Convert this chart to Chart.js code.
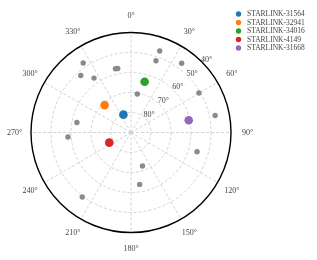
<!DOCTYPE html>
<html>
<head>
<meta charset="utf-8">
<script src="https://cdn.jsdelivr.net/npm/chart.js@4"></script>
<style>
  html, body { margin: 0; padding: 0; background: #fff; }
  #wrap { width: 317px; height: 260px; position: relative; }
</style>
</head>
<body>
<div id="wrap"><canvas id="sky"></canvas></div>
<script>
/* Satellite sky plot: azimuth (deg, clockwise from north) and elevation (deg) */
var satNames = ['STARLINK-31564', 'STARLINK-32941', 'STARLINK-34016', 'STARLINK-4149', 'STARLINK-31668'];
var satColors = ['#1f77b4', '#ff7f0e', '#2ca02c', '#d62728', '#9467bd'];
var satAz = [337, 316, 15, 245, 78];
var satEl = [80.3, 71, 63.7, 78, 60.5];

var otherAz = [19.4, 19.2, 36.2, 325.5, 318.6, 325.8, 346.3, 348.3, 9.3, 59.8, 78.6, 280.5, 265.9, 106.3, 161.1, 170.5, 217.1];
var otherEl = [46.8, 52, 47.1, 47.8, 52, 57.1, 57.2, 57.3, 70.5, 50.7, 47.1, 62.5, 58.4, 55.6, 72.3, 63.7, 49.6];

var ringEl = [80, 70, 60, 50];
var minEl = 40;
var spokeAz = [0, 30, 60, 90, 120, 150, 180, 210, 240, 270, 300, 330];

var ZMAX = 90 - minEl;

function toXY(az, el) {
  var z = 90 - el, a = az * Math.PI / 180;
  return { x: z * Math.sin(a), y: z * Math.cos(a) };
}

var datasets = [{
  label: '',
  data: otherAz.map(function (a, i) { return toXY(a, otherEl[i]); }),
  backgroundColor: '#8a8a8a',
  pointRadius: 2.7,
  borderWidth: 0
}];
satNames.forEach(function (n, i) {
  datasets.push({
    label: n,
    data: [toXY(satAz[i], satEl[i])],
    backgroundColor: satColors[i],
    pointRadius: 4.3,
    borderWidth: 0
  });
});

var FONT = "8px 'Liberation Serif', 'DejaVu Serif', serif";

/* polar grid under the points */
var polarGrid = {
  id: 'polarGrid',
  beforeDatasetsDraw: function (chart) {
    var xs = chart.scales.x, ys = chart.scales.y, ctx = chart.ctx;
    var cx = xs.getPixelForValue(0), cy = ys.getPixelForValue(0);
    var k = (xs.getPixelForValue(ZMAX) - cx) / ZMAX;
    var R = ZMAX * k;
    ctx.save();
    ctx.strokeStyle = '#cfcfcf';
    ctx.lineWidth = 0.9;
    ctx.setLineDash([3, 2]);
    ringEl.forEach(function (el) {
      ctx.beginPath();
      ctx.arc(cx, cy, (90 - el) * k, 0, Math.PI * 2);
      ctx.stroke();
    });
    spokeAz.forEach(function (az) {
      var a = az * Math.PI / 180;
      ctx.beginPath();
      ctx.moveTo(cx, cy);
      ctx.lineTo(cx + R * Math.sin(a), cy - R * Math.cos(a));
      ctx.stroke();
    });
    ctx.setLineDash([]);
    ctx.strokeStyle = '#000';
    ctx.lineWidth = 1.4;
    ctx.beginPath();
    ctx.arc(cx, cy, R, 0, Math.PI * 2);
    ctx.stroke();

    ctx.font = FONT;
    ctx.fillStyle = '#444';
    ctx.textAlign = 'center';
    ctx.textBaseline = 'middle';
    spokeAz.forEach(function (az) {
      var a = az * Math.PI / 180;
      ctx.fillText(az + '°', cx + (R + 16.5) * Math.sin(a), cy - (R + 16.5) * Math.cos(a));
    });
    var la = 46 * Math.PI / 180;
    ringEl.concat([minEl]).forEach(function (el) {
      var r = (90 - el) * k + 5;
      ctx.fillText(el + '°', cx + r * Math.sin(la), cy - r * Math.cos(la));
    });
    ctx.restore();
  },
  afterDraw: function (chart) {
    var ctx = chart.ctx;
    ctx.save();
    ctx.font = "7.5px 'Liberation Serif', 'DejaVu Serif', serif";
    ctx.textBaseline = 'middle';
    ctx.textAlign = 'left';
    satNames.forEach(function (n, i) {
      var y = 14 + i * 8.5;
      ctx.fillStyle = satColors[i];
      ctx.beginPath();
      ctx.arc(238.5, y, 2.7, 0, Math.PI * 2);
      ctx.fill();
      ctx.fillStyle = '#444';
      ctx.fillText(n, 247, y + 0.5);
    });
    ctx.restore();
  }
};

new Chart(document.getElementById('sky'), {
  type: 'scatter',
  data: { datasets: datasets },
  options: {
    responsive: true,
    maintainAspectRatio: false,
    animation: false,
    layout: { padding: { left: 31, top: 32.5, right: 86, bottom: 27.5 } },
    scales: {
      x: { type: 'linear', min: -ZMAX, max: ZMAX, display: false },
      y: { type: 'linear', min: -ZMAX, max: ZMAX, display: false }
    },
    plugins: { legend: { display: false }, tooltip: { enabled: false } }
  },
  plugins: [polarGrid]
});
</script>
</body>
</html>
